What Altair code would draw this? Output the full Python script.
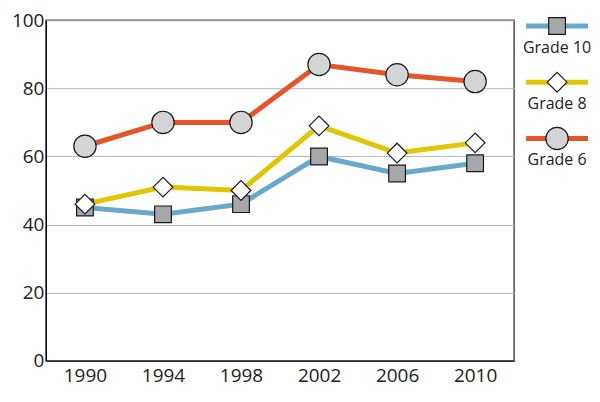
import altair as alt
import pandas as pd

years = ["1990", "1994", "1998", "2002", "2006", "2010"]
grades = ["Grade 10", "Grade 8", "Grade 6"]
grade_10 = [45, 43, 46, 60, 55, 58]
grade_8 = [46, 51, 50, 69, 61, 64]
grade_6 = [63, 70, 70, 87, 84, 82]

line_colors = ["#68a9c9", "#e1c500", "#e6552a"]
marker_fills = ["#a7a8ab", "#ffffff", "#d3d4d6"]
marker_shapes = ["square", "diamond", "circle"]
marker_sizes = [280, 500, 400]

FONT = "Open Sans"

rows = []
for grade, vals in zip(grades, [grade_10, grade_8, grade_6]):
    for year, v in zip(years, vals):
        rows.append({"year": year, "grade": grade, "value": v})
df = pd.DataFrame(rows)

color_scale = alt.Scale(domain=grades, range=line_colors)
fill_scale = alt.Scale(domain=grades, range=marker_fills)
shape_scale = alt.Scale(domain=grades, range=marker_shapes)
size_scale = alt.Scale(domain=grades, range=marker_sizes)

x_enc = alt.X(
    "year:O",
    sort=years,
    title=None,
    axis=alt.Axis(labelAngle=0, ticks=False, domainColor="black", labelPadding=6, grid=False),
)
y_enc = alt.Y(
    "value:Q",
    title=None,
    scale=alt.Scale(domain=[0, 100]),
    axis=alt.Axis(values=[0, 20, 40, 60, 80, 100], ticks=False, domainColor="black",
                  gridColor="#b5b5b5", labelPadding=2),
)

lines = (
    alt.Chart(df)
    .mark_line(strokeWidth=5)
    .encode(x=x_enc, y=y_enc, color=alt.Color("grade:N", scale=color_scale, legend=None))
)

points = (
    alt.Chart(df)
    .mark_point(filled=True, opacity=1, stroke="#1a1a1a", strokeWidth=1.2)
    .encode(
        x=x_enc,
        y=y_enc,
        fill=alt.Fill("grade:N", scale=fill_scale, legend=None),
        shape=alt.Shape("grade:N", scale=shape_scale, legend=None),
        size=alt.Size("grade:O", scale=size_scale, legend=None),
    )
)

main = alt.layer(lines, points).properties(
    width=469,
    height=341,
    view=alt.ViewBackground(stroke="#4d4d4d", strokeWidth=1.5),
)

# custom legend: line with marker, label underneath
legend_df = pd.DataFrame({"grade": grades})
leg_y = alt.Y("grade:N", sort=grades, scale=alt.Scale(type="point", padding=0.1), axis=None)
leg_x = dict(type="quantitative", scale=alt.Scale(domain=[0, 1]), axis=None)

leg_rule = (
    alt.Chart(legend_df)
    .mark_rule(strokeWidth=5)
    .encode(
        x=alt.X(datum=0, **leg_x),
        x2=alt.X2(datum=1),
        y=leg_y,
        color=alt.Color("grade:N", scale=color_scale, legend=None),
    )
)
leg_point = (
    alt.Chart(legend_df)
    .mark_point(filled=True, opacity=1, stroke="#1a1a1a", strokeWidth=1.2)
    .encode(
        x=alt.X(datum=0.5, **leg_x),
        y=leg_y,
        fill=alt.Fill("grade:N", scale=fill_scale, legend=None),
        shape=alt.Shape("grade:N", scale=shape_scale, legend=None),
        size=alt.Size("grade:O", scale=size_scale, legend=None),
    )
)
leg_text = (
    alt.Chart(legend_df)
    .mark_text(dy=22, fontSize=16, font=FONT, color="#222222")
    .encode(x=alt.X(datum=0.5, **leg_x), y=leg_y, text="grade:N")
)

legend = alt.layer(leg_rule, leg_point, leg_text).properties(
    width=62,
    height=124,
    view=alt.ViewBackground(stroke="transparent"),
)

chart = (
    alt.hconcat(main, legend, spacing=12, bounds="flush")
    .properties(padding={"left": 2, "top": 2, "right": 0, "bottom": 0})
    .configure_axis(labelFont=FONT, labelFontSize=19, labelColor="#222222")
)

chart.save("out.html", embed_options={"renderer": "svg", "actions": False})
